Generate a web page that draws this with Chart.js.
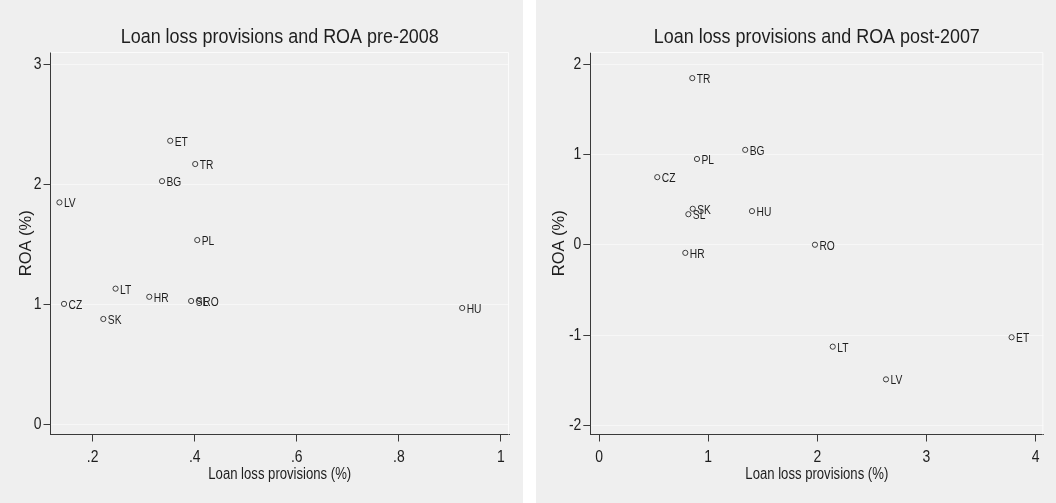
<!DOCTYPE html>
<html>
<head>
<meta charset="utf-8">
<script src="https://cdn.jsdelivr.net/npm/chart.js@4.4.0/dist/chart.umd.min.js"></script>
<style>
  html, body { margin: 0; padding: 0; background: #ffffff; }
  #wrap { position: relative; width: 1056px; height: 503px; }
  canvas { position: absolute; top: 0; background: #efefef; }
  #pre { left: 0; }
  #post { left: 536px; }
</style>
</head>
<body>
<div id="wrap">
  <canvas id="pre" width="523" height="503"></canvas>
  <canvas id="post" width="520" height="503"></canvas>
</div>
<script>
// Loan loss provisions (% of loans) and ROA (%) by country, before 2008
const countriesPre = ['ET', 'TR', 'BG', 'LV', 'PL', 'LT', 'HR', 'SL', 'RO', 'CZ', 'SK', 'HU'];
const llpPre = [0.352, 0.401, 0.336, 0.135, 0.405, 0.245, 0.311, 0.393, 0.408, 0.144, 0.221, 0.924];
const roaPre = [2.364, 2.170, 2.027, 1.850, 1.536, 1.131, 1.063, 1.028, 1.028, 1.004, 0.878, 0.970];

// Same indicators after 2007
const countriesPost = ['TR', 'BG', 'PL', 'CZ', 'SK', 'SL', 'HU', 'RO', 'HR', 'LT', 'LV', 'ET'];
const llpPost = [0.854, 1.339, 0.897, 0.533, 0.858, 0.818, 1.401, 1.978, 0.790, 2.141, 2.629, 3.780];
const roaPost = [1.844, 1.050, 0.949, 0.748, 0.398, 0.338, 0.372, 0.000, -0.090, -1.128, -1.490, -1.024];

// Axis ticks
const xTicksPre = [0.2, 0.4, 0.6, 0.8, 1];
const xTickLabelsPre = ['.2', '.4', '.6', '.8', '1'];
const yTicksPre = [0, 1, 2, 3];
const yTickLabelsPre = ['0', '1', '2', '3'];

const xTicksPost = [0, 1, 2, 3, 4];
const xTickLabelsPost = ['0', '1', '2', '3', '4'];
const yTicksPost = [-2, -1, 0, 1, 2];
const yTickLabelsPost = ['-2', '-1', '0', '1', '2'];

const FONT = "'Liberation Sans', Arial, sans-serif";
const INK = '#1e1e1e';
const AXIS = '#3a3a3a';

// Horizontal text is set condensed (narrow sans look); rotated text is left as is
const condensedText = {
  id: 'condensedText',
  beforeInit(chart) {
    const ctx = chart.ctx;
    if (ctx.__condensed) return;
    const fill = ctx.fillText.bind(ctx);
    ctx.fillText = function (text, x, y, maxWidth) {
      const m = ctx.getTransform();
      if (Math.abs(m.b) > 1e-6 || Math.abs(m.c) > 1e-6) {
        return maxWidth === undefined ? fill(text, x, y) : fill(text, x, y, maxWidth);
      }
      const size = parseFloat((ctx.font.match(/([\d.]+)px/) || [0, '12'])[1]);
      const k = size >= 20 ? 0.875 : 0.82;
      ctx.save();
      ctx.translate(x, y);
      ctx.scale(k, 1);
      if (maxWidth === undefined) fill(text, 0, 0); else fill(text, 0, 0, maxWidth / k);
      ctx.restore();
    };
    ctx.__condensed = true;
  }
};

// Writes each country code just right of its marker
const pointLabels = {
  id: 'pointLabels',
  afterDatasetsDraw(chart) {
    const ctx = chart.ctx;
    const meta = chart.getDatasetMeta(0);
    const names = chart.data.datasets[0].names;
    ctx.save();
    ctx.font = '12.5px ' + FONT;
    ctx.fillStyle = INK;
    ctx.textAlign = 'left';
    ctx.textBaseline = 'middle';
    meta.data.forEach((pt, i) => ctx.fillText(names[i], pt.x + 4.5, pt.y + 1.5));
    ctx.restore();
  }
};

// Light edge along the top and right of the plot region
const plotEdge = {
  id: 'plotEdge',
  beforeDatasetsDraw(chart) {
    const { left, right, top, bottom } = chart.chartArea;
    const ctx = chart.ctx;
    ctx.save();
    ctx.strokeStyle = '#fbfbfb';
    ctx.lineWidth = 1;
    ctx.beginPath();
    ctx.moveTo(left, top + 0.5);
    ctx.lineTo(right - 0.5, top + 0.5);
    ctx.lineTo(right - 0.5, bottom);
    ctx.stroke();
    ctx.restore();
  }
};

function scatterPanel(id, p) {
  const points = p.x.map((v, i) => ({ x: v, y: p.y[i] }));
  return new Chart(document.getElementById(id), {
    type: 'scatter',
    data: {
      datasets: [{
        data: points,
        names: p.names,
        pointStyle: 'circle',
        pointRadius: 2.6,
        pointBorderWidth: 1,
        pointBorderColor: '#3c3c3c',
        pointBackgroundColor: 'rgba(0,0,0,0)'
      }]
    },
    options: {
      responsive: false,
      animation: false,
      events: [],
      layout: { padding: { left: 0, right: p.padRight, top: 0, bottom: 0 } },
      plugins: {
        legend: { display: false },
        tooltip: { enabled: false },
        title: {
          display: true,
          text: p.title,
          fullSize: false,
          color: INK,
          font: { family: FONT, size: 20.5, weight: 'normal' },
          padding: { top: 25.2, bottom: 2.2 }
        }
      },
      scales: {
        x: {
          type: 'linear',
          min: p.xMin,
          max: p.xMax,
          afterFit(s) { s.height = 68.5; },
          afterBuildTicks(s) { s.ticks = p.xTicks.map(v => ({ value: v })); },
          grid: { drawOnChartArea: false, drawTicks: true, tickLength: 7, tickColor: AXIS, tickWidth: 1 },
          border: { display: true, color: AXIS, width: 1 },
          ticks: {
            autoSkip: false, maxRotation: 0, padding: 5.4, color: INK,
            font: { family: FONT, size: 17 },
            callback: (v, i) => p.xTickLabels[i]
          },
          title: {
            display: true,
            text: 'Loan loss provisions (%)',
            color: INK,
            font: { family: FONT, size: 16 },
            padding: { top: 0, bottom: 19 }
          }
        },
        y: {
          type: 'linear',
          min: p.yMin,
          max: p.yMax,
          afterFit(s) { s.width = p.axisWidth; },
          afterBuildTicks(s) { s.ticks = p.yTicks.map(v => ({ value: v })); },
          grid: { drawOnChartArea: true, color: '#f7f7f7', lineWidth: 1, drawTicks: true, tickLength: 7, tickColor: AXIS, tickWidth: 1 },
          border: { display: true, color: AXIS, width: 1 },
          ticks: {
            autoSkip: false, padding: 2, color: INK,
            font: { family: FONT, size: 17 },
            callback: (v, i) => p.yTickLabels[i]
          },
          title: {
            display: true,
            text: 'ROA (%)',
            color: INK,
            font: { family: FONT, size: 16.5 },
            padding: { top: p.yTitlePad, bottom: 0 }
          }
        }
      }
    },
    plugins: [condensedText, plotEdge, pointLabels]
  });
}

scatterPanel('pre', {
  title: 'Loan loss provisions and ROA pre-2008',
  names: countriesPre, x: llpPre, y: roaPre,
  xMin: 0.1175, xMax: 1.0157, yMin: -0.085, yMax: 3.104,
  xTicks: xTicksPre, xTickLabels: xTickLabelsPre,
  yTicks: yTicksPre, yTickLabels: yTickLabelsPre,
  axisWidth: 50.5, padRight: 14, yTitlePad: 17
});

scatterPanel('post', {
  title: 'Loan loss provisions and ROA post-2007',
  names: countriesPost, x: llpPost, y: roaPost,
  xMin: -0.0807, xMax: 4.0706, yMin: -2.10, yMax: 2.133,
  xTicks: xTicksPost, xTickLabels: xTickLabelsPost,
  yTicks: yTicksPost, yTickLabels: yTickLabelsPost,
  axisWidth: 54.3, padRight: 12.7, yTitlePad: 14
});
</script>
</body>
</html>
